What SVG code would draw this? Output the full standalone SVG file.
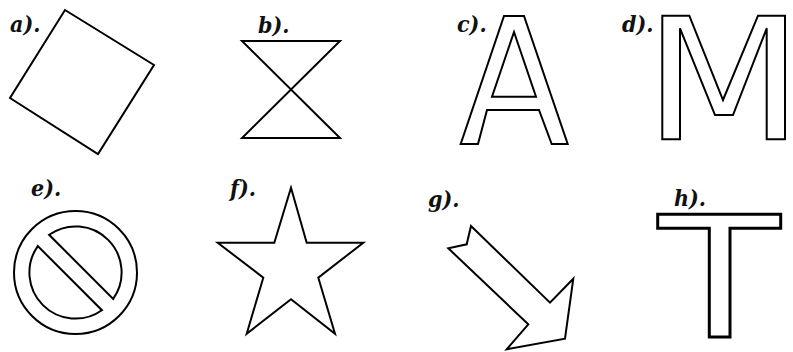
<svg xmlns="http://www.w3.org/2000/svg" width="793" height="352" viewBox="0 0 793 352">
<style>
.lbl{font-family:"DejaVu Serif Condensed","DejaVu Serif","Liberation Serif",serif;font-stretch:condensed;font-weight:bold;font-style:italic;font-size:23px;fill:#111}
.sh{fill:none;stroke:#000;stroke-width:2;stroke-linejoin:miter}
.thk{stroke-width:3}
</style>
<rect width="793" height="352" fill="#fff"/>
<g id="a">
<polygon class="sh" points="65,10 154,65 98,154 10,98"/>
<text class="lbl" x="10" y="32">a).</text>
</g>
<g id="b">
<polygon class="sh" points="242,41 340,41 242,138 340,138"/>
<text class="lbl" x="258" y="33">b).</text>
</g>
<g id="c">
<path class="sh" d="M504,16 L524,16 L567.7,144 L551.7,144 L539,110 L487,110 L478,144 L460.7,144 Z M514,32 L492,96.7 L536,96.7 Z"/>
<text class="lbl" x="457" y="32">c).</text>
</g>
<g id="d">
<path class="sh" d="M662.3,15.7 L689.3,15.7 L723,100 L758,15.7 L785,15.7 L785,139.3 L766.7,139.3 L766.7,28.3 L733,115 L715,115 L680,28.3 L680,139.3 L662.3,139.3 Z"/>
<text class="lbl" x="622" y="32">d).</text>
</g>
<g id="e">
<circle class="sh" cx="75.5" cy="272.5" r="61.5"/>
<path class="sh" d="M49.1,234.8 A46,46 0 0 1 113.2,298.9 Z M101.9,310.2 A46,46 0 0 1 37.8,246.1 Z"/>
<text class="lbl" x="31" y="196">e).</text>
</g>
<g id="f">
<polygon class="sh" points="291,187.7 306.7,242.7 363.3,242.7 318.3,277.7 335,333.7 291,299.3 246.7,333.7 263.3,277.7 217.7,242.7 274.3,242.7"/>
<text class="lbl" x="230" y="196">f).</text>
</g>
<g id="g">
<polygon class="sh" points="471,226 550,302.7 573.3,278.7 565,338.7 506.7,349.3 528.3,324.3 448.3,248.3 466.7,244.3"/>
<text class="lbl" x="428" y="207">g).</text>
</g>
<g id="h">
<polygon class="sh thk" points="657.7,214.3 780.7,214.3 780.7,228.3 730,228.3 730,337 709.3,337 709.3,228.3 657.7,228.3"/>
<text class="lbl" x="674" y="206">h).</text>
</g>
<g id="connectors"></g>
</svg>
